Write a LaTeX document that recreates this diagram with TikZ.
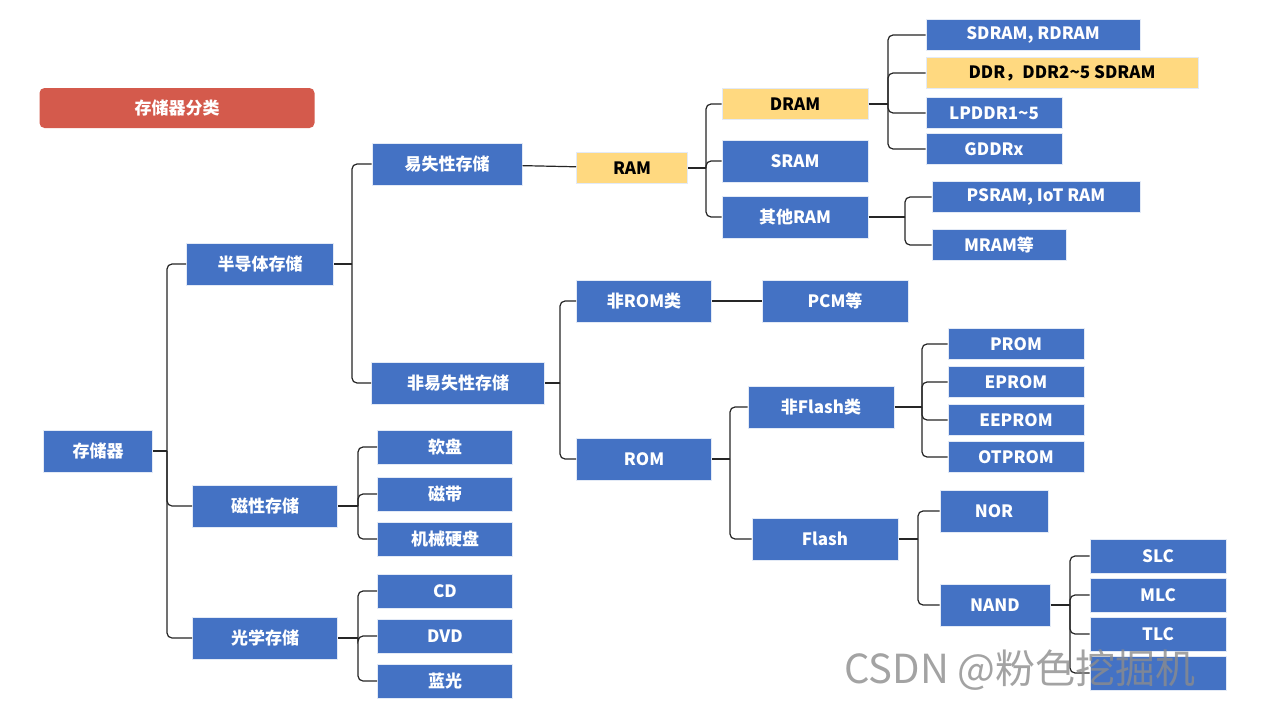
\documentclass[tikz,border=0pt]{standalone}
\usepackage{fontspec}
\setmainfont{Noto Sans CJK SC}
\usepackage{tikz}
\definecolor{boxblue}{HTML}{4472C4}
\definecolor{boxyellow}{HTML}{FFD980}
\definecolor{boxred}{HTML}{D45A4C}
\newcommand\branch[3]{%
  \coordinate (bx) at (#2,0);
  \draw[link] (#1.east) -- (#1.east -| bx);
  \foreach \c in {#3} \draw[link] (#1.east -| bx) |- (\c.west);
}
\begin{document}
\begin{tikzpicture}[x=1pt, y=-1pt,
    cell/.style={rectangle, fill=boxblue, text=white, font=\bfseries\fontsize{17}{17}\selectfont,
      minimum height=42pt, inner sep=0pt, draw=white!85!boxblue, line width=1pt},
    thin/.style={cell, minimum height=31pt},
    mid/.style={cell, minimum height=34pt},
    hot/.style={fill=boxyellow, text=black},
    link/.style={draw=black!85, line width=1.2pt, rounded corners=5pt}]
  \useasboundingbox (0,0) rectangle (1280,720);
  \fill[white] (0,0) rectangle (1280,720);
  % title
  \node (title) at (177,108) [cell, fill=boxred, minimum width=275pt, minimum height=40pt,
    rounded corners=5pt, draw=none] {存储器分类};
  % level 0-1
  \node (mem) at (98,451) [cell, minimum width=109pt] {存储器};
  \node (semi) at (260,264) [cell, minimum width=147pt] {半导体存储};
  \node (magn) at (265,506) [cell, minimum width=145pt] {磁性存储};
  \node (opt) at (265,638) [cell, minimum width=145pt] {光学存储};
  % level 2
  \node (vol) at (447,164) [cell, minimum width=150pt] {易失性存储};
  \node (nvol) at (458,383) [cell, minimum width=173pt] {非易失性存储};
  \node (floppy) at (445,447) [mid, minimum width=135pt] {软盘};
  \node (tape) at (445,494) [mid, minimum width=135pt] {磁带};
  \node (hdd) at (445,539) [mid, minimum width=135pt] {机械硬盘};
  \node (cd) at (445,591) [mid, minimum width=135pt] {CD};
  \node (dvd) at (445,636) [mid, minimum width=135pt] {DVD};
  \node (bluray) at (445,681) [mid, minimum width=135pt] {蓝光};
  % level 3
  \node (ram) at (632,168) [thin, hot, minimum width=111pt] {RAM};
  \node (nonrom) at (644,301) [cell, minimum width=135pt] {非ROM类};
  \node (rom) at (644,459) [cell, minimum width=135pt] {ROM};
  % level 4
  \node (dram) at (795,104) [thin, hot, minimum width=146pt] {DRAM};
  \node (sram) at (795,161) [cell, minimum width=146pt] {SRAM};
  \node (oram) at (795,217) [cell, minimum width=146pt] {其他RAM};
  \node (pcm) at (835,301) [cell, minimum width=146pt] {PCM等};
  \node (nflash) at (821,407) [cell, minimum width=146pt] {非Flash类};
  \node (flash) at (825,539) [cell, minimum width=146pt] {Flash};
  % level 5
  \node (sdram) at (1033,35) [thin, minimum width=214pt] {SDRAM, RDRAM};
  \node (ddr) at (1062,73) [thin, hot, minimum width=272pt] {DDR，DDR2\textasciitilde5 SDRAM};
  \node (lpddr) at (994,113) [thin, minimum width=136pt] {LPDDR1\textasciitilde5};
  \node (gddr) at (994,149) [thin, minimum width=136pt] {GDDRx};
  \node (psram) at (1036,197) [thin, minimum width=208pt] {PSRAM, IoT RAM};
  \node (mram) at (999,245) [thin, minimum width=134pt] {MRAM等};
  \node (prom) at (1016,344) [thin, minimum width=136pt] {PROM};
  \node (eprom) at (1016,382) [thin, minimum width=136pt] {EPROM};
  \node (eeprom) at (1016,420) [thin, minimum width=136pt] {EEPROM};
  \node (otprom) at (1016,457) [thin, minimum width=136pt] {OTPROM};
  \node (nor) at (994,511) [cell, minimum width=108pt] {NOR};
  \node (nand) at (995,605) [cell, minimum width=110pt] {NAND};
  % level 6
  \node (slc) at (1158,556) [mid, minimum width=136pt] {SLC};
  \node (mlc) at (1158,595) [mid, minimum width=136pt] {MLC};
  \node (tlc) at (1158,634) [mid, minimum width=136pt] {TLC};
  \node (qlc) at (1158,673) [mid, minimum width=136pt] {};

  \branch{mem}{167}{semi,magn,opt}
  \branch{semi}{352}{vol,nvol}
  \branch{magn}{358}{floppy,tape,hdd}
  \branch{opt}{358}{cd,dvd,bluray}
  \draw[link] (vol) -- (ram);
  \branch{nvol}{560}{nonrom,rom}
  \branch{ram}{706}{dram,sram,oram}
  \branch{dram}{888}{sdram,ddr,lpddr,gddr}
  \branch{oram}{905}{psram,mram}
  \draw[link] (nonrom) -- (pcm);
  \branch{rom}{730}{nflash,flash}
  \branch{nflash}{922}{prom,eprom,eeprom,otprom}
  \branch{flash}{918}{nor,nand}
  \branch{nand}{1070}{slc,mlc,tlc,qlc}

  \node (mark) at (1020,670) [text=black!45, opacity=0.8, font=\fontsize{40}{40}\selectfont] {CSDN @粉色挖掘机};
\end{tikzpicture}
\end{document}
